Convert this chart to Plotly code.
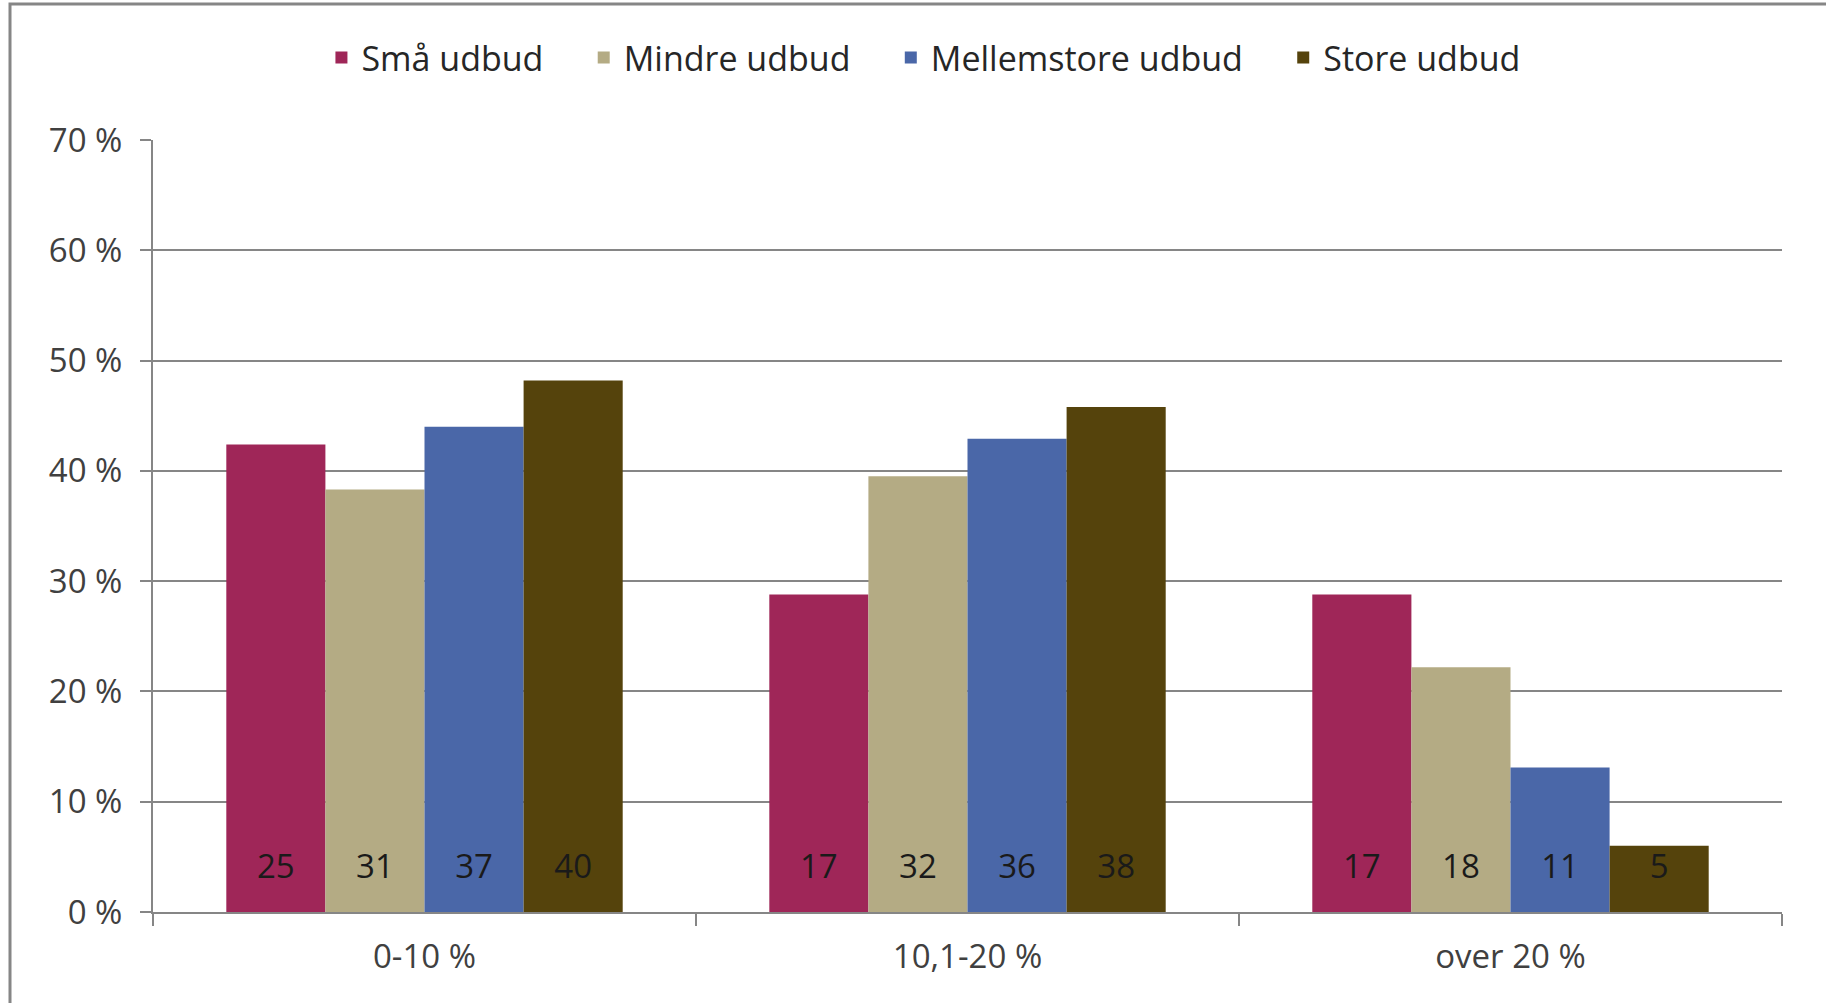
import plotly.graph_objects as go

categories = ["0-10 %", "10,1-20 %", "over 20 %"]
series_names = ["Små udbud", "Mindre udbud", "Mellemstore udbud", "Store udbud"]
# bar heights (percent of each series)
smaa_pct = [42.4, 28.8, 28.8]
mindre_pct = [38.3, 39.5, 22.2]
mellem_pct = [44.0, 42.9, 13.1]
store_pct = [48.2, 45.8, 6.0]
# numbers printed inside the bars
smaa_n = [25, 17, 17]
mindre_n = [31, 32, 18]
mellem_n = [37, 36, 11]
store_n = [40, 38, 5]
y_ticks = [0, 10, 20, 30, 40, 50, 60, 70]

colors = ["#9F2658", "#B4AB84", "#4A67A8", "#55430C"]
FONT = "Open Sans"
FS = 33
GRID = "#868686"
LABEL_LEVEL = 3.8
BARGAP = 0.27
PAD = "\u00a0" * 4

pcts = [smaa_pct, mindre_pct, mellem_pct, store_pct]
counts = [smaa_n, mindre_n, mellem_n, store_n]

fig = go.Figure()
for i, (name, vals, col) in enumerate(zip(series_names, pcts, colors)):
    fig.add_trace(go.Bar(name=name + PAD, x=categories, y=vals, offsetgroup=str(i),
                         marker=dict(color=col, line=dict(width=0))))

for i, (name, cnt) in enumerate(zip(series_names, counts)):
    fig.add_trace(go.Scatter(
        x=categories, y=[LABEL_LEVEL] * len(categories), mode="text",
        text=[str(c) for c in cnt], textposition="middle center",
        textfont=dict(family=FONT, size=FS, color="#1A1A1A"),
        showlegend=False, hoverinfo="skip", offsetgroup=str(i)))

W, H = 1826, 1003
L, R, T, B = 153, 44, 140, 91
ph = H - T - B
pw = W - L - R

fig.update_layout(
    width=W, height=H,
    margin=dict(l=L, r=R, t=T, b=B, pad=0),
    barmode="group", bargap=BARGAP, bargroupgap=0,
    scattermode="group", scattergap=BARGAP,
    paper_bgcolor="white", plot_bgcolor="white",
    font=dict(family=FONT, color="#404040"),
    legend=dict(orientation="h", x=0.484, xanchor="center", y=1 + (T - 58) / ph, yanchor="middle",
                font=dict(family=FONT, size=34, color="#262626"), itemwidth=30,
                traceorder="normal", bgcolor="rgba(0,0,0,0)"),
    xaxis=dict(type="category", showline=True, linecolor=GRID, linewidth=2,
               ticks="outside", tickson="boundaries", ticklen=12, tickwidth=2, tickcolor=GRID,
               tickfont=dict(family=FONT, size=FS, color="#404040"), ticklabelstandoff=14,
               showgrid=False),
    yaxis=dict(range=[0, 70], tickvals=y_ticks, ticktext=[f"{v} %" for v in y_ticks],
               showline=True, linecolor=GRID, linewidth=2,
               showgrid=True, gridcolor=GRID, gridwidth=2,
               ticks="outside", ticklen=11, tickwidth=2, tickcolor=GRID,
               tickfont=dict(family=FONT, size=FS, color="#404040"), ticklabelstandoff=11,
               zeroline=False),
    shapes=[dict(type="rect", xref="paper", yref="paper",
                 x0=(10 - L) / pw, x1=1.2, y0=-0.3, y1=1 + (T - 4) / ph,
                 line=dict(color=GRID, width=3), fillcolor="rgba(0,0,0,0)", layer="below")],
)

fig.write_html("out.html", config={"displayModeBar": False},
               post_script="document.body.style.margin='0';")
